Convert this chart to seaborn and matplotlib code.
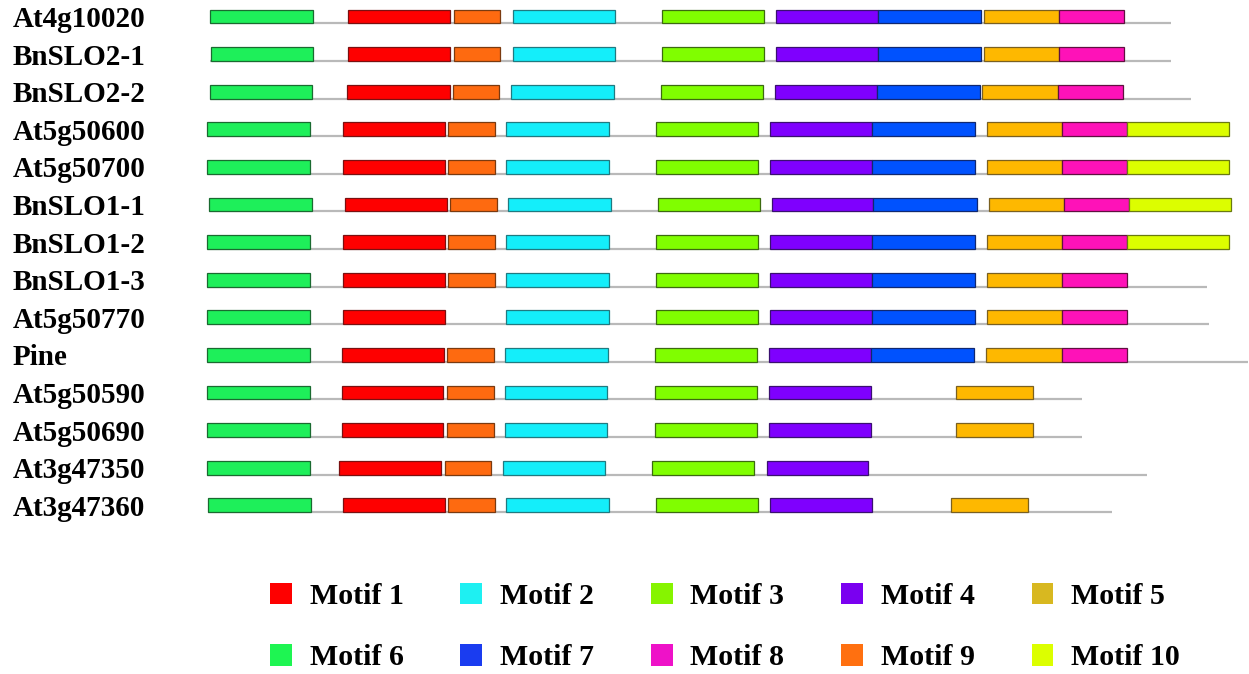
import matplotlib
matplotlib.use("Agg")
import matplotlib.pyplot as plt
from matplotlib.patches import Patch
import seaborn as sns
import pandas as pd

# Gene / protein names, top to bottom
genes = ["At4g10020", "BnSLO2-1", "BnSLO2-2", "At5g50600", "At5g50700",
         "BnSLO1-1", "BnSLO1-2", "BnSLO1-3", "At5g50770", "Pine",
         "At5g50590", "At5g50690", "At3g47350", "At3g47360"]

# Sequence extent of each gene (start, end) on the common scale
seq_start = [210, 210, 210, 207, 207, 209, 207, 207, 207, 207, 207, 207, 207, 208]
seq_end = [1171, 1171, 1191, 1229, 1229, 1231, 1229, 1207, 1209, 1248, 1082, 1082, 1147, 1112]

# Motif hits per gene: (motif number, start, end)
motifs_at4g10020 = [(6, 210, 313), (1, 348, 450), (9, 454, 500), (2, 513, 615), (3, 662, 764),
                    (4, 776, 878), (7, 878, 981), (5, 984, 1059), (8, 1059, 1124)]
motifs_bnslo2_1 = [(6, 211, 313), (1, 348, 450), (9, 454, 500), (2, 513, 615), (3, 662, 764),
                   (4, 776, 878), (7, 878, 981), (5, 984, 1059), (8, 1059, 1124)]
motifs_bnslo2_2 = [(6, 210, 312), (1, 347, 450), (9, 453, 499), (2, 511, 614), (3, 661, 763),
                   (4, 775, 877), (7, 877, 980), (5, 982, 1058), (8, 1058, 1123)]
motifs_at5g50600 = [(6, 207, 310), (1, 343, 445), (9, 448, 495), (2, 506, 609), (3, 656, 758),
                    (4, 770, 872), (7, 872, 975), (5, 987, 1062), (8, 1062, 1127), (10, 1127, 1229)]
motifs_at5g50700 = [(6, 207, 310), (1, 343, 445), (9, 448, 495), (2, 506, 609), (3, 656, 758),
                    (4, 770, 872), (7, 872, 975), (5, 987, 1062), (8, 1062, 1127), (10, 1127, 1229)]
motifs_bnslo1_1 = [(6, 209, 312), (1, 345, 447), (9, 450, 497), (2, 508, 611), (3, 658, 760),
                   (4, 772, 873), (7, 873, 977), (5, 989, 1064), (8, 1064, 1129), (10, 1129, 1231)]
motifs_bnslo1_2 = [(6, 207, 310), (1, 343, 445), (9, 448, 495), (2, 506, 609), (3, 656, 758),
                   (4, 770, 872), (7, 872, 975), (5, 987, 1062), (8, 1062, 1127), (10, 1127, 1229)]
motifs_bnslo1_3 = [(6, 207, 310), (1, 343, 445), (9, 448, 495), (2, 506, 609), (3, 656, 758),
                   (4, 770, 872), (7, 872, 975), (5, 987, 1062), (8, 1062, 1127)]
motifs_at5g50770 = [(6, 207, 310), (1, 343, 445), (2, 506, 609), (3, 656, 758),
                    (4, 770, 872), (7, 872, 975), (5, 987, 1062), (8, 1062, 1127)]
motifs_pine = [(6, 207, 310), (1, 342, 444), (9, 447, 494), (2, 505, 608), (3, 655, 757),
               (4, 769, 871), (7, 871, 974), (5, 986, 1062), (8, 1062, 1127)]
motifs_at5g50590 = [(6, 207, 310), (1, 342, 443), (9, 447, 494), (2, 505, 607), (3, 655, 757),
                    (4, 769, 871), (5, 956, 1033)]
motifs_at5g50690 = [(6, 207, 310), (1, 342, 443), (9, 447, 494), (2, 505, 607), (3, 655, 757),
                    (4, 769, 871), (5, 956, 1033)]
motifs_at3g47350 = [(6, 207, 310), (1, 339, 441), (9, 445, 491), (2, 503, 605), (3, 652, 754),
                    (4, 767, 868)]
motifs_at3g47360 = [(6, 208, 311), (1, 343, 445), (9, 448, 495), (2, 506, 609), (3, 656, 758),
                    (4, 770, 872), (5, 951, 1028)]

gene_motifs = [motifs_at4g10020, motifs_bnslo2_1, motifs_bnslo2_2, motifs_at5g50600,
               motifs_at5g50700, motifs_bnslo1_1, motifs_bnslo1_2, motifs_bnslo1_3,
               motifs_at5g50770, motifs_pine, motifs_at5g50590, motifs_at5g50690,
               motifs_at3g47350, motifs_at3g47360]

motif_ids = list(range(1, 11))
bar_colors = {1: "#fe0000", 2: "#14eefa", 3: "#80fe00", 4: "#7f00fe", 5: "#feb800",
              6: "#1eef5a", 7: "#0052fe", 8: "#fe12b8", 9: "#fe6a10", 10: "#dcfe00"}
legend_colors = {1: "#fe0000", 2: "#1ef0f2", 3: "#86f400", 4: "#7a00f0", 5: "#d8b820",
                 6: "#1ef552", 7: "#1a3cf0", 8: "#ee12c8", 9: "#ff7010", 10: "#dcff00"}
edge_colors = {1: "#7a1010", 2: "#207a80", 3: "#3c6a10", 4: "#3a1070", 5: "#7a6020",
               6: "#1a6a30", 7: "#102870", 8: "#601040", 9: "#7a3a10", 10: "#6a7a10"}

rows = []
for g, hits in zip(genes, gene_motifs):
    for m, s, e in hits:
        rows.append({"gene": g, "motif": m, "start": s, "length": e - s})
df = pd.DataFrame(rows)

sns.set_theme(style="white")
plt.rcParams["font.family"] = ["Liberation Serif", "DejaVu Serif"]
plt.rcParams["text.color"] = "black"

W, H, DPI = 1249, 674, 100
fig = plt.figure(figsize=(W / DPI, H / DPI), dpi=DPI)
ax = fig.add_axes([0, 0, 1, 1])

bar_h = 0.37
# Backbone line of each sequence along the bottom of its motif boxes
for i, (s, e) in enumerate(zip(seq_start, seq_end)):
    ax.hlines(i + bar_h / 2, s, e, color="#b9b9b9", lw=1.6, zorder=1)

for m in motif_ids:
    sub = df[df["motif"] == m].copy()
    sub["order"] = sub["gene"].map({g: k for k, g in enumerate(genes)})
    sub = sub.sort_values("order")
    sns.barplot(data=sub, y="gene", x="length", order=genes, orient="h",
                left=sub["start"].to_numpy(), color=bar_colors[m], saturation=1,
                errorbar=None, width=bar_h, edgecolor=edge_colors[m], linewidth=0.9,
                ax=ax, zorder=2)

ax.set_xlim(0, W)
row_px = 37.6
top_px = 16.5
ax.set_ylim((H - top_px) / row_px, -top_px / row_px)
ax.set_xlabel("")
ax.set_ylabel("")
ax.set_xticks([])
ax.set_yticks(range(len(genes)))
ax.set_yticklabels(genes, ha="left", fontsize=21, fontweight="bold", color="black")
ax.tick_params(axis="y", length=0, pad=-9)
for sp in ax.spines.values():
    sp.set_visible(False)

# Legend: two rows of five motifs
order = [1, 6, 2, 7, 3, 8, 4, 9, 5, 10]
handles = [Patch(facecolor=legend_colors[m], edgecolor="none", label=f"Motif {m}") for m in order]
fig.legend(handles=handles, ncol=5, loc="center left",
           bbox_to_anchor=(270 / W, 1 - 627 / H), frameon=False,
           prop={"family": "Liberation Serif", "weight": "bold", "size": 21.5},
           labelcolor="black",
           handlelength=0.73, handleheight=0.73, handletextpad=0.6,
           columnspacing=1.9, labelspacing=1.15, borderpad=0, borderaxespad=0)

fig.savefig("out.png", dpi=DPI)
